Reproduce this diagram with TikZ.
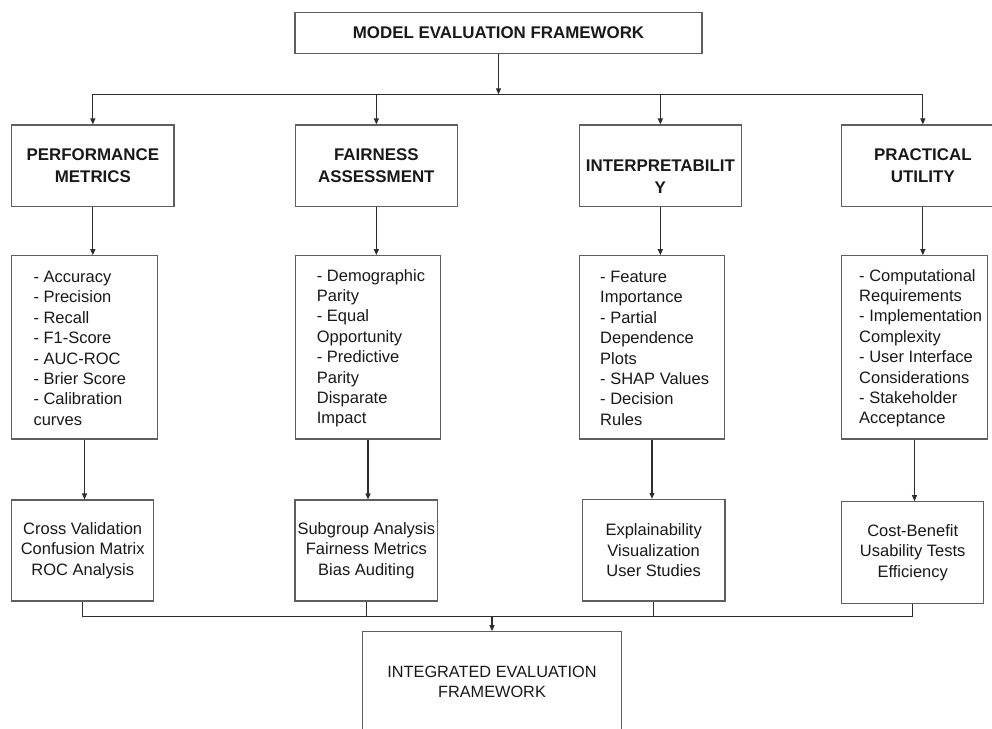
\documentclass[tikz,border=0pt]{standalone}
\usepackage{fontspec}
\setmainfont{Liberation Sans}
\usetikzlibrary{arrows.meta}
\definecolor{boxc}{RGB}{95,95,95}
\definecolor{linec}{RGB}{45,45,45}
\definecolor{txt}{RGB}{25,25,25}
\begin{document}
\begin{tikzpicture}[x=1pt,y=-1pt,
  box/.style={draw=boxc,line width=1.1pt,inner sep=0pt,text=txt,align=center},
  ttl/.style={font=\bfseries\fontsize{16.9}{21.7}\selectfont},
  body/.style={font=\fontsize{16.5}{20.4}\selectfont},
  ln/.style={draw=linec,line width=1.1pt},
  arr/.style={ln,-{Triangle[length=6pt,width=5pt]}}]
\useasboundingbox (0,0) rectangle (992,728);
\clip (0,0) rectangle (992,728);
\fill[white] (0,0) rectangle (992,728);

% top
\node[box,ttl,minimum width=407pt,minimum height=40.5pt] (top) at (498.5,33) {MODEL EVALUATION FRAMEWORK};

% level 2
\node[box,ttl,minimum width=162.3pt,minimum height=81.5pt] (b1) at (92.85,165.75) {PERFORMANCE\\METRICS};
\node[box,ttl,minimum width=162.3pt,minimum height=81.5pt] (b2) at (376.35,165.75) {FAIRNESS\\ASSESSMENT};
\node[box,minimum width=162.3pt,minimum height=81.5pt] (b3) at (660.35,165.75) {};
\node[ttl,text=txt,align=center,inner sep=0pt] (b3t) at (660.35,176.8) {INTERPRETABILIT\\Y};
\node[box,ttl,minimum width=162.3pt,minimum height=81.5pt] (b4) at (922.85,165.75) {PRACTICAL\\UTILITY};

% level 3
\node[box,minimum width=145.6pt,minimum height=183.3pt] (c1) at (84.5,347.35) {};
\node[box,minimum width=145.6pt,minimum height=183.3pt] (c2) at (368,347.35) {};
\node[box,minimum width=145.6pt,minimum height=183.3pt] (c3) at (652,347.35) {};
\node[box,minimum width=145.6pt,minimum height=183.3pt] (c4) at (914.5,347.35) {};
\node[body,text=txt,align=left,inner sep=0pt,anchor=west] (ct1) at (33.3,348.3)
  {- Accuracy\\- Precision\\- Recall\\- F1-Score\\- AUC-ROC\\- Brier Score\\- Calibration\\curves};
\node[body,text=txt,align=left,inner sep=0pt,anchor=west] (ct2) at (316.7,348.3)
  {- Demographic\\Parity\\- Equal\\Opportunity\\- Predictive\\Parity\\Disparate\\Impact};
\node[body,text=txt,align=left,inner sep=0pt,anchor=west] (ct3) at (600,348.3)
  {- Feature\\Importance\\- Partial\\Dependence\\Plots\\- SHAP Values\\- Decision\\Rules};
\node[body,text=txt,align=left,inner sep=0pt,anchor=west] (ct4) at (859,348.3)
  {- Computational\\Requirements\\- Implementation\\Complexity\\- User Interface\\Considerations\\- Stakeholder\\Acceptance};

% level 4
\node[box,body,minimum width=142pt,minimum height=101pt] (d1) at (82.7,550.5) {Cross Validation\\Confusion Matrix\\ROC Analysis};
\node[box,body,minimum width=142.7pt,minimum height=101pt] (d2) at (366.35,550.5) {Subgroup Analysis\\Fairness Metrics\\Bias Auditing};
\node[box,body,minimum width=142.7pt,minimum height=101.7pt] (d3) at (653.65,550.15) {Explainability\\Visualization\\User Studies};
\node[box,body,minimum width=142pt,minimum height=101.6pt] (d4) at (912.7,552.5) {Cost-Benefit\\Usability Tests\\Efficiency};

% final
\node[box,font=\fontsize{16.3}{19.4}\selectfont,minimum width=259.4pt,minimum height=100.6pt] (e) at (492,682) {INTEGRATED EVALUATION\\FRAMEWORK};

% connectors top
\coordinate (j1) at (498.5,94.3);
\draw[arr] (top.south) -- (j1);
\draw[ln] (b1.north |- j1) -- (b4.north |- j1);
\foreach \b in {b1,b2,b3,b4} \draw[arr] (\b.north |- j1) -- (\b.north);

% level 2 -> 3
\draw[arr] (b1.south) -- (b1.south |- c1.north);
\draw[arr] (b2.south) -- (b2.south |- c2.north);
\draw[arr] (b3.south) -- (b3.south |- c3.north);
\draw[arr] (b4.south) -- (b4.south |- c4.north);

% level 3 -> 4
\draw[arr] (c1.south) -- (c1.south |- d1.north);
\draw[arr] (c2.south) -- (c2.south |- d2.north);
\draw[arr] (c3.south) -- (c3.south |- d3.north);
\draw[arr] (c4.south) -- (c4.south |- d4.north);

% bottom
\coordinate (j2) at (492,616.2);
\draw[ln] (d1.south) -- (d1.south |- j2) -- (d4.south |- j2) -- (d4.south);
\draw[ln] (d2.south) -- (d2.south |- j2);
\draw[ln] (d3.south) -- (d3.south |- j2);
\draw[arr] (j2) -- (e.north);
\end{tikzpicture}
\end{document}
